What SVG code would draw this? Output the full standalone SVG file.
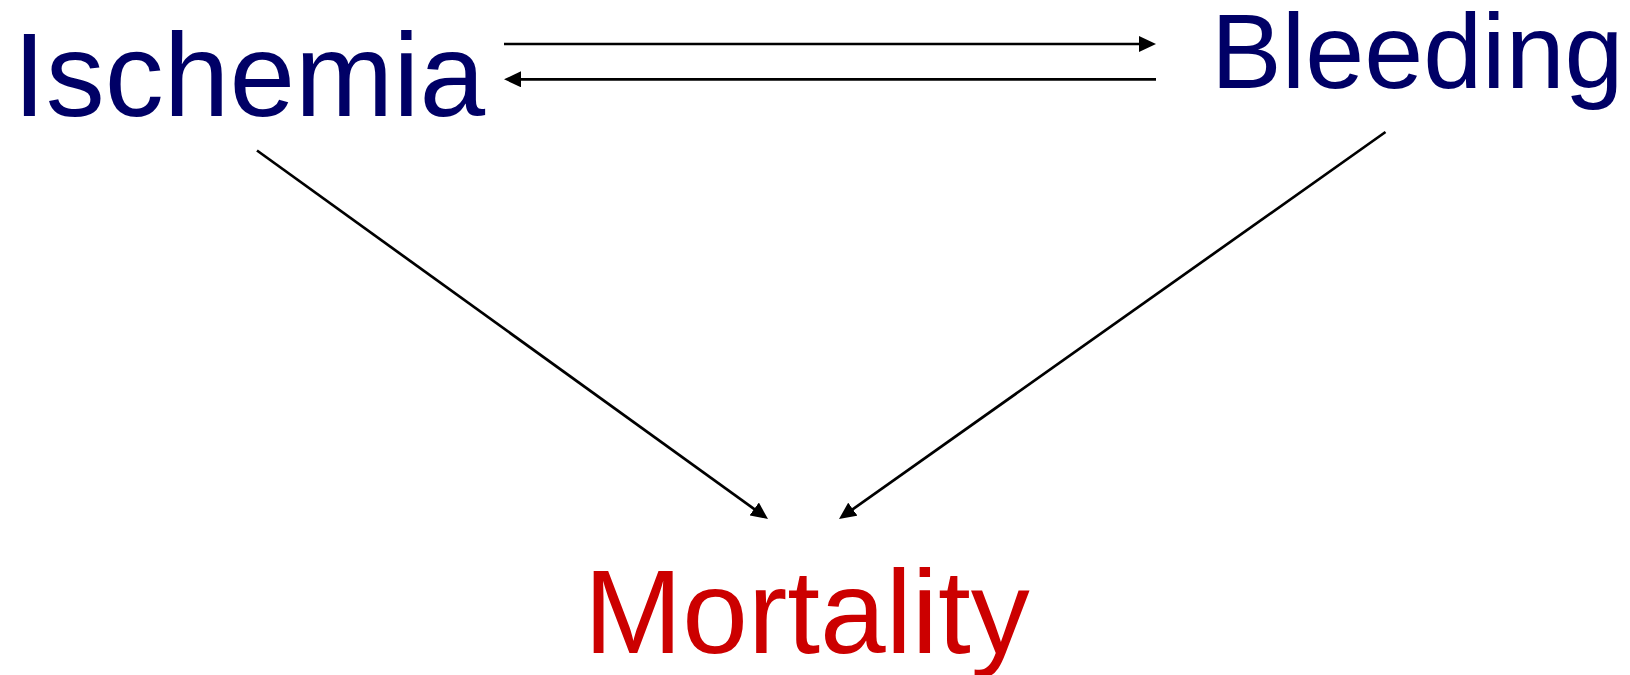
<svg xmlns="http://www.w3.org/2000/svg" width="1630" height="675" viewBox="0 0 1630 675">
<style>
.lbl{font-family:"Liberation Sans",Arial,sans-serif}
.blue{fill:#000066}
.red{fill:#CC0000}
.edge{stroke:#000;stroke-width:2.7;fill:none;marker-end:url(#ah)}
</style>
<defs>
<marker id="ah" markerUnits="userSpaceOnUse" markerWidth="17" markerHeight="16" refX="9" refY="8" orient="auto">
<path d="M0,0 L17,8 L0,16 z" fill="#000"/>
</marker>
</defs>
<rect width="1630" height="675" fill="#fff"/>
<g id="connectors">
<line class="edge" x1="504" y1="44" x2="1148" y2="44"/>
<line class="edge" x1="1156" y1="79.3" x2="512" y2="79.3"/>
<line class="edge" x1="257" y1="150.5" x2="761.5" y2="514.3"/>
<line class="edge" x1="1385.5" y1="132" x2="845.5" y2="514.4"/>
</g>
<g id="ischemia"><text class="lbl blue" x="13" y="116" font-size="118">Ischemia</text></g>
<g id="bleeding"><text class="lbl blue" x="1211" y="88" font-size="106">Bleeding</text></g>
<g id="mortality"><text class="lbl red" x="584" y="653" font-size="118">Mortality</text></g>
</svg>
